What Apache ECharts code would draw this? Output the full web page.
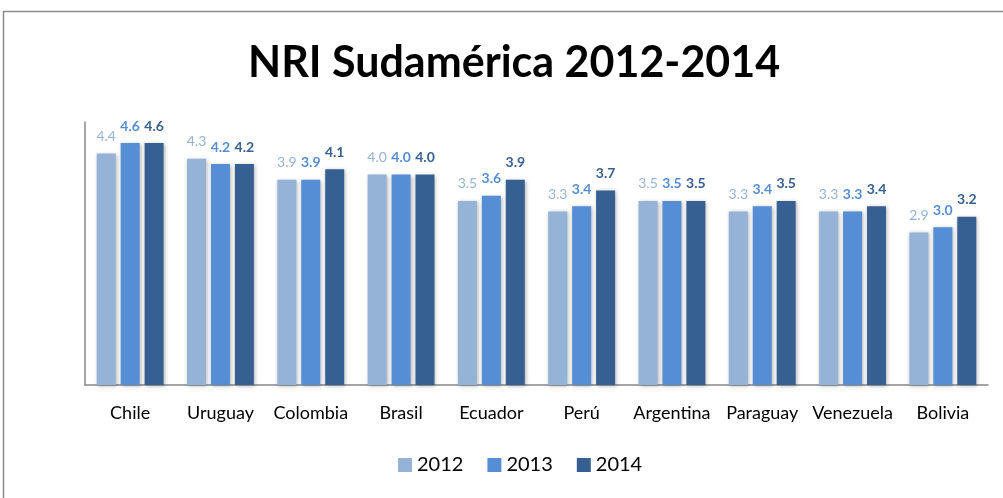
<!DOCTYPE html>
<html>
<head>
<meta charset="utf-8">
<script src="https://cdn.jsdelivr.net/npm/echarts@6/dist/echarts.min.js"></script>
<style>
  html, body { margin: 0; padding: 0; background: #fff; }
  #chart { width: 1003px; height: 498px; }
</style>
</head>
<body>
<div id="chart"></div>
<script>
var countries = ["Chile", "Uruguay", "Colombia", "Brasil", "Ecuador", "Perú", "Argentina", "Paraguay", "Venezuela", "Bolivia"];
var years = ["2012", "2013", "2014"];
var nri2012 = [4.4, 4.3, 3.9, 4.0, 3.5, 3.3, 3.5, 3.3, 3.3, 2.9];
var nri2013 = [4.6, 4.2, 3.9, 4.0, 3.6, 3.4, 3.5, 3.4, 3.3, 3.0];
var nri2014 = [4.6, 4.2, 4.1, 4.0, 3.9, 3.7, 3.5, 3.5, 3.4, 3.2];

var colors = ["#95b3d7", "#558ed5", "#376092"];
var font = "Lato, 'Open Sans', sans-serif";

function barSeries(name, data, idx) {
  return {
    name: name,
    type: "bar",
    data: data,
    barWidth: 19,
    barGap: "26%",
    itemStyle: {
      color: colors[idx],
      shadowBlur: 4,
      shadowColor: "rgba(0,0,0,0.3)",
      shadowOffsetX: 1,
      shadowOffsetY: 1
    },
    label: {
      show: true,
      position: "top",
      distance: 10,
      color: colors[idx],
      fontFamily: font,
      fontSize: 14,
      fontWeight: idx == 0 ? "normal" : "bold",
      formatter: function (p) { return p.value.toFixed(1); }
    }
  };
}

var myChart = echarts.init(document.getElementById("chart"));
var option = {
  backgroundColor: "#fff",
  animation: false,
  graphic: [{
    type: "rect",
    shape: { x: 3.5, y: 11.5, width: 1010, height: 500 },
    style: { fill: "none", stroke: "#8c8c8c", lineWidth: 1.5 }
  }],
  title: {
    text: "NRI Sudamérica 2012-2014",
    left: 243,
    top: 37,
    textStyle: { fontFamily: font, fontSize: 43, fontWeight: "bold", color: "#000" }
  },
  legend: {
    data: years,
    bottom: 18,
    left: 393,
    itemWidth: 14,
    itemHeight: 14,
    itemGap: 24,
    icon: "rect",
    textStyle: { fontFamily: font, fontSize: 20, color: "#000" }
  },
  grid: { left: 85, right: 15, top: 122, bottom: 113 },
  xAxis: {
    type: "category",
    data: countries,
    axisTick: { show: false },
    axisLine: { lineStyle: { color: "#888", width: 1.5 } },
    axisLabel: { color: "#000", fontFamily: font, fontSize: 18, margin: 19, interval: 0 }
  },
  yAxis: {
    type: "value",
    min: 0,
    max: 5,
    interval: 1,
    axisLine: { show: true, lineStyle: { color: "#888", width: 1.5 } },
    axisTick: { show: false },
    axisLabel: { show: false },
    splitLine: { show: false }
  },
  series: [
    barSeries("2012", nri2012, 0),
    barSeries("2013", nri2013, 1),
    barSeries("2014", nri2014, 2)
  ]
};
myChart.setOption(option);
window.addEventListener("resize", function () { myChart.resize(); });
</script>
</body>
</html>
